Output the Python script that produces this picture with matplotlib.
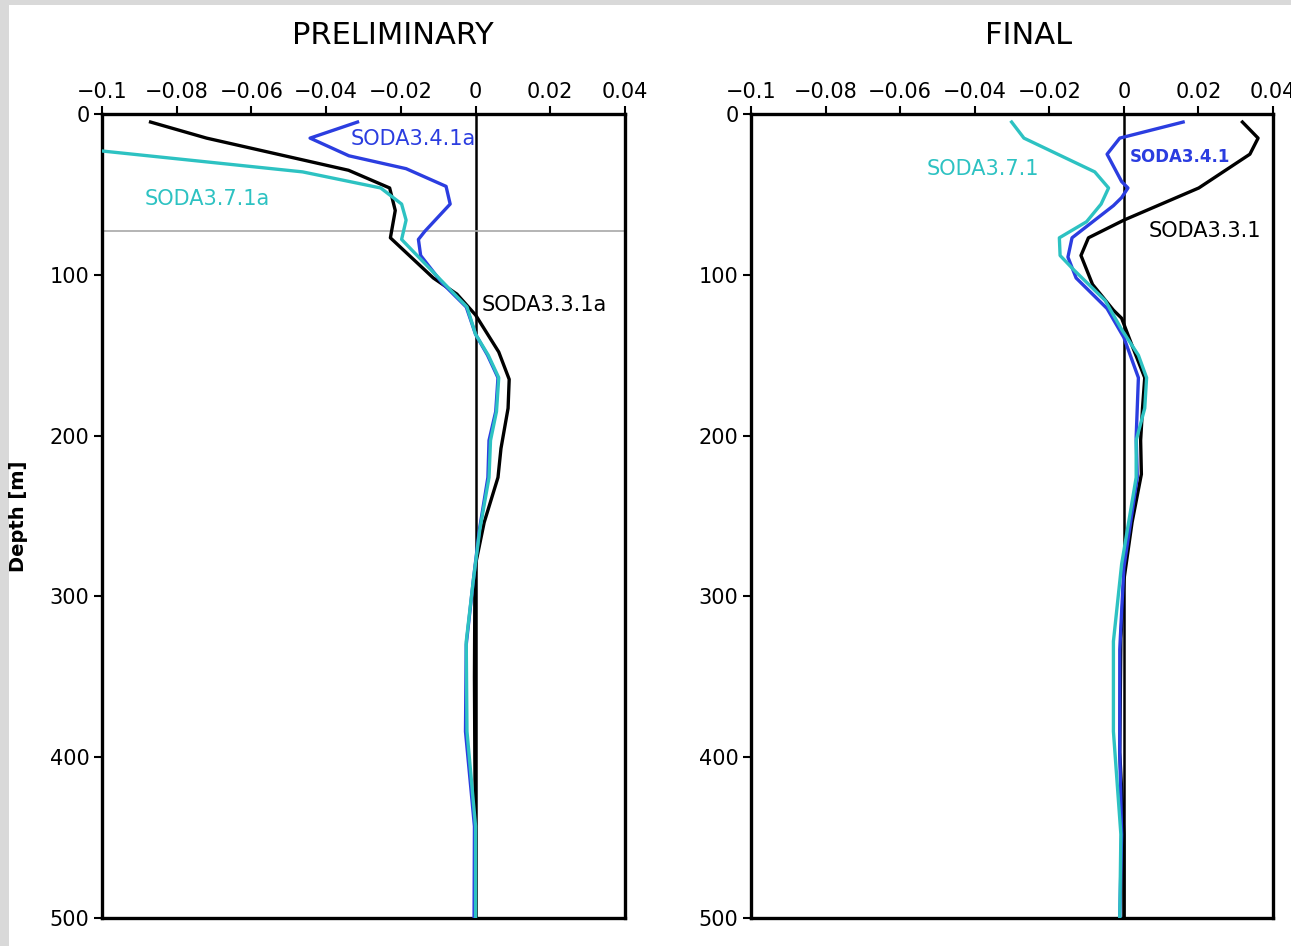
import numpy as np
import matplotlib.pyplot as plt
from matplotlib.patches import Rectangle

# depth profiles (x value, depth in m)

# preliminary
pre_331_depth = [5, 15, 35, 46, 60, 77, 102, 112, 125, 148, 165, 183, 208, 226, 254, 280, 300, 350, 400, 450, 500]
pre_331_val = [-0.087, -0.072, -0.034, -0.023, -0.0215, -0.0228, -0.0113, -0.005, 0.0, 0.0062, 0.009, 0.0087,
               0.0068, 0.006, 0.0023, 0.0, -0.0002, -0.0003, -0.0002, 0.0, 0.0]

pre_341_depth = [5, 15, 26, 34, 45, 56, 73, 78, 88, 105, 120, 137, 150, 164, 185, 203, 226, 259, 290, 330, 384, 443, 500]
pre_341_val = [-0.0316, -0.0443, -0.0339, -0.0186, -0.0079, -0.0068, -0.0136, -0.0153, -0.0147, -0.009, -0.0025,
               0.0, 0.0032, 0.006, 0.0054, 0.0036, 0.0033, 0.001, -0.0006, -0.0025, -0.0027, -0.0003, -0.0004]

pre_371_depth = [23, 36, 46, 56, 66, 78, 104, 120, 137, 150, 164, 185, 203, 226, 259, 290, 328, 384, 443, 500]
pre_371_val = [-0.1, -0.0463, -0.0254, -0.0198, -0.0186, -0.0198, -0.009, -0.0023, 0.0, 0.0034, 0.0062, 0.0056,
               0.004, 0.0036, 0.0011, -0.0006, -0.0025, -0.0023, 0.0, 0.0]

# final
fin_331_depth = [5, 15, 25, 46, 66, 77, 88, 106, 122, 127, 144, 164, 183, 203, 224, 254, 290, 326, 397, 448, 500]
fin_331_val = [0.0318, 0.036, 0.0338, 0.0201, 0.0, -0.0095, -0.0115, -0.0084, -0.0028, -0.0006, 0.0022, 0.0056,
               0.005, 0.0045, 0.0047, 0.0022, 0.0, -0.0008, -0.0011, 0.0, 0.0]

fin_341_depth = [5, 15, 25, 42, 46, 52, 57, 77, 89, 102, 121, 139, 164, 201, 226, 282, 333, 397, 448, 500]
fin_341_val = [0.0159, -0.0011, -0.0045, -0.0006, 0.0011, -0.0006, -0.0028, -0.0139, -0.015, -0.0128, -0.0045,
               0.0, 0.0039, 0.0033, 0.0036, 0.0, -0.0011, -0.0011, -0.0006, -0.0011]

fin_371_depth = [5, 15, 36, 46, 56, 67, 77, 88, 97, 116, 134, 150, 164, 183, 203, 226, 280, 328, 384, 448, 500]
fin_371_val = [-0.0301, -0.0268, -0.0078, -0.0041, -0.0061, -0.01, -0.0173, -0.0171, -0.0134, -0.005, -0.0006,
               0.0039, 0.0061, 0.0056, 0.0033, 0.0033, -0.0006, -0.0028, -0.0028, -0.0008, -0.0011]

xticks = [-0.1, -0.08, -0.06, -0.04, -0.02, 0, 0.02, 0.04]
xtick_labels = ['\u22120.1', '\u22120.08', '\u22120.06', '\u22120.04', '\u22120.02', '0', '0.02', '0.04']
yticks = [0, 100, 200, 300, 400, 500]
mld_depth = 72.6   # grey reference line, preliminary panel only

black = 'black'
blue = '#2b3de0'
cyan = '#2dc2c2'
font = ['Liberation Sans Narrow', 'DejaVu Sans']
plt.rcParams['font.family'] = font

W, H = 1291, 946
fig = plt.figure(figsize=(W / 100, H / 100), dpi=100, facecolor='#d9d9d9')
# white page inside a thin grey frame (top and left)
fig.patches.append(Rectangle((9 / W, 0), 1, 1 - 5 / H, transform=fig.transFigure,
                             facecolor='white', edgecolor='none', zorder=-10))


def setup(ax):
    ax.set_xlim(-0.1, 0.04)
    ax.set_ylim(500, 0)
    ax.set_xticks(xticks)
    ax.set_xticklabels(xtick_labels)
    ax.set_yticks(yticks)
    ax.xaxis.tick_top()
    ax.tick_params(axis='both', direction='out', length=6, width=1.5, labelsize=15, pad=3)
    for s in ax.spines.values():
        s.set_linewidth(2.4)
    ax.axvline(0, color='black', lw=1.8, zorder=1)
    ax.set_facecolor('white')


ax1 = fig.add_axes([102 / W, 28 / H, 523 / W, 804 / H])
setup(ax1)
ax1.axhline(mld_depth, color='#a8a8a8', lw=1.2, zorder=1)
ax1.plot(pre_331_val, pre_331_depth, color=black, lw=2.4, zorder=3)
ax1.plot(pre_341_val, pre_341_depth, color=blue, lw=2.4, zorder=4)
ax1.plot(pre_371_val, pre_371_depth, color=cyan, lw=2.4, zorder=5)
ax1.text(-0.0335, 15.5, 'SODA3.4.1a', color=blue, fontsize=15, va='center', ha='left')
ax1.text(-0.0885, 53, 'SODA3.7.1a', color=cyan, fontsize=15, va='center', ha='left')
ax1.text(0.0017, 119, 'SODA3.3.1a', color=black, fontsize=15, va='center', ha='left')
ax1.set_ylabel('Depth [m]', fontsize=14, fontweight='bold')
ax1.yaxis.set_label_coords(-0.1415, 0.5)

ax2 = fig.add_axes([751 / W, 28 / H, 522 / W, 804 / H])
setup(ax2)
ax2.plot(fin_331_val, fin_331_depth, color=black, lw=2.4, zorder=3)
ax2.plot(fin_341_val, fin_341_depth, color=blue, lw=2.4, zorder=4)
ax2.plot(fin_371_val, fin_371_depth, color=cyan, lw=2.4, zorder=5)
ax2.text(0.0017, 27, 'SODA3.4.1', color=blue, fontsize=12, fontweight='bold', va='center', ha='left')
ax2.text(-0.053, 34, 'SODA3.7.1', color=cyan, fontsize=15, va='center', ha='left')
ax2.text(0.0067, 72.5, 'SODA3.3.1', color=black, fontsize=15, va='center', ha='left')

fig.text(393 / W, 1 - 36 / H, 'PRELIMINARY', fontsize=22, ha='center', va='center')
fig.text(1029 / W, 1 - 36 / H, 'FINAL', fontsize=22, ha='center', va='center')

fig.savefig('out.png', dpi=100, facecolor=fig.get_facecolor())
